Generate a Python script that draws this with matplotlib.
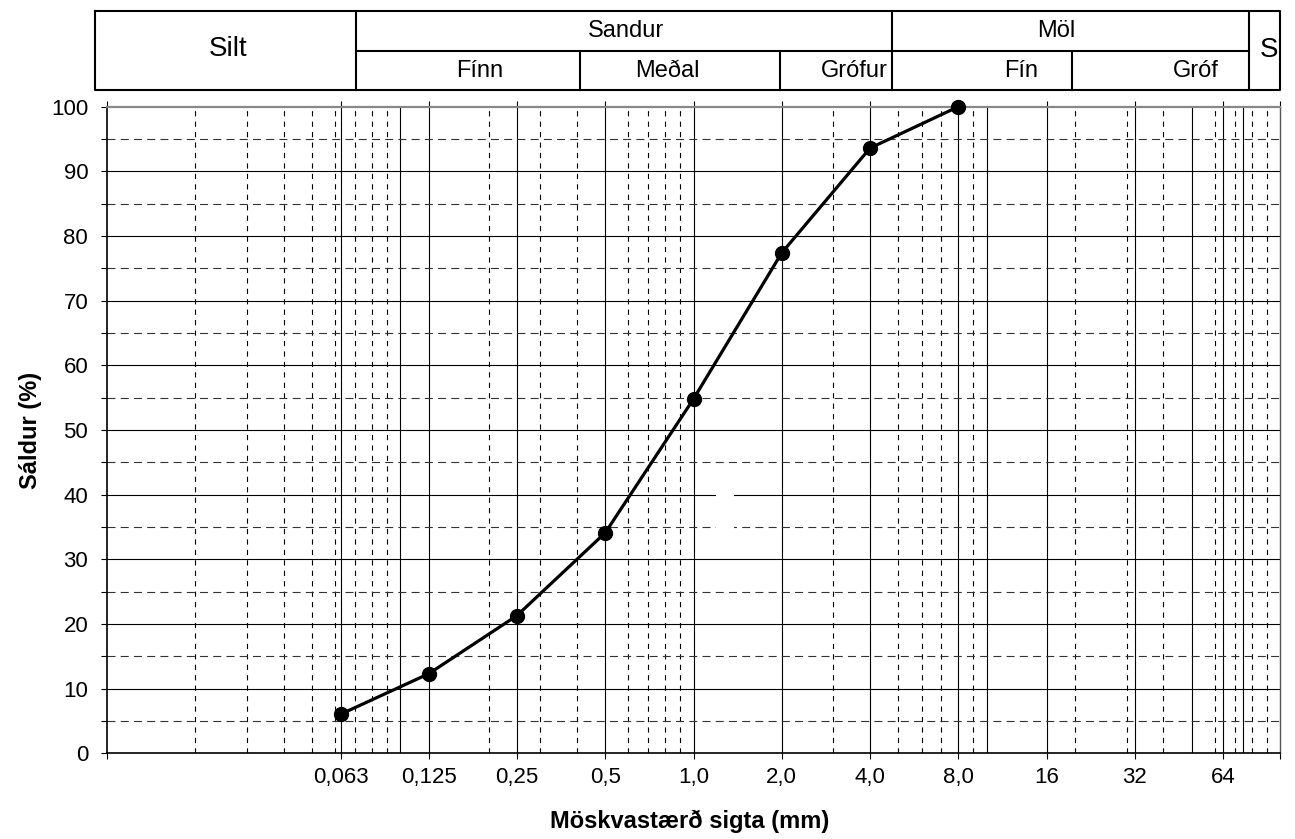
import matplotlib
matplotlib.use("Agg")
import matplotlib.pyplot as plt
from matplotlib.patches import Rectangle

plt.rcParams['font.family'] = ['Liberation Sans', 'DejaVu Sans']

# ---- data ----
sieve_mm = [0.063, 0.125, 0.25, 0.5, 1.0, 2.0, 4.0, 8.0]
passing_pct = [6.1, 12.3, 21.3, 34.1, 54.8, 77.4, 93.6, 100.0]

tick_values = [0.063, 0.125, 0.25, 0.5, 1.0, 2.0, 4.0, 8.0, 16, 32, 64]
tick_labels = ["0,063", "0,125", "0,25", "0,5", "1,0", "2,0", "4,0", "8,0", "16", "32", "64"]
extra_solid = [0.1, 10, 50, 75]
minor_dashed = [0.02, 0.03, 0.04, 0.05, 0.06, 0.07, 0.08, 0.09,
                0.2, 0.3, 0.4, 0.6, 0.7, 0.8, 0.9,
                3, 5, 6, 7, 9,
                20, 30, 40, 60, 70, 80, 90]
y_solid = [10, 20, 30, 40, 50, 60, 70, 80, 90]
y_dashed = [5, 15, 25, 35, 45, 55, 65, 75, 85, 95]
y_ticks = list(range(0, 101, 10))

header_labels_top = ["Silt", "Sandur", "Möl", "S"]
header_labels_bot = ["Fínn", "Meðal", "Grófur", "Fín", "Gróf"]

W, H = 1295, 839
fig = plt.figure(figsize=(W / 100, H / 100), dpi=100)
ax = fig.add_axes([107 / W, 1 - 753.3 / H, 1173 / W, 646.6 / H])
ax.set_xscale('log')
ax.set_xlim(0.01, 100)
ax.set_ylim(0, 100)

# grid
for v in tick_values + extra_solid:
    ax.axvline(v, color='black', lw=0.8, zorder=1)
for v in minor_dashed:
    ax.axvline(v, color='black', lw=0.8, ls=(0, (4.7, 4.7)), zorder=1)
for v in y_solid:
    ax.axhline(v, color='black', lw=0.8, zorder=1)
for v in y_dashed:
    ax.axhline(v, color='#333333', lw=0.8, ls=(0, (7.2, 4.7)), zorder=1)

# small white gap artefact seen in the reference grid
ax.add_patch(Rectangle((1.19, 34.3), 0.18, 6.3, facecolor='white', edgecolor='none', zorder=2))

ax.plot(sieve_mm, passing_pct, color='black', lw=2.3, marker='o', ms=10, zorder=5, clip_on=False)

ax.set_xticks([0.01] + tick_values + [100])
ax.set_xticklabels([""] + tick_labels + [""])
ax.xaxis.set_minor_locator(matplotlib.ticker.NullLocator())
ax.set_yticks(y_ticks)
ax.set_yticks(y_dashed, minor=True)
ax.tick_params(axis='x', which='major', direction='out', length=4, width=0.8,
               labelsize=16, pad=6, top=True)
ax.tick_params(axis='y', which='both', direction='out', length=4, width=0.8,
               labelsize=16, pad=9.5)

for s in ['left', 'bottom']:
    ax.spines[s].set_linewidth(1.2)
    ax.spines[s].set_color('black')
ax.spines['top'].set_color('#888888')
ax.spines['top'].set_linewidth(1.6)
ax.spines['right'].set_color('#555555')
ax.spines['right'].set_linewidth(1.0)

fig.text(30 / W, 1 - 430 / H, "Sáldur (%)", rotation=90, fontsize=17, fontweight='bold',
         ha='center', va='center')
fig.text(690 / W, 1 - 821 / H, "Möskvastærð sigta (mm)", fontsize=17, fontweight='bold',
         ha='center', va='center')

# header table
hax = fig.add_axes([0, 0, 1, 1])
hax.set_xlim(0, W)
hax.set_ylim(H, 0)
hax.axis('off')
hax.patch.set_alpha(0)
top_y, mid_y, bot_y = 11, 51, 90
lw = 1.5
hax.plot([95, 1280, 1280, 95, 95], [top_y, top_y, bot_y, bot_y, top_y], color='black', lw=lw)
hax.plot([356, 1249], [mid_y, mid_y], color='black', lw=lw)
for x in [356, 892, 1249]:
    hax.plot([x, x], [top_y, bot_y], color='black', lw=lw)
for x in [580, 780, 1072]:
    hax.plot([x, x], [mid_y, bot_y], color='black', lw=lw)

hax.text(228, 49, header_labels_top[0], fontsize=20, ha='center', va='center')
hax.text(626, 31, header_labels_top[1], fontsize=17, ha='center', va='center')
hax.text(1056, 31, header_labels_top[2], fontsize=17, ha='center', va='center')
hax.text(1269, 50, header_labels_top[3], fontsize=20, ha='center', va='center')
hax.text(480, 71, header_labels_bot[0], fontsize=17, ha='center', va='center')
hax.text(667, 71, header_labels_bot[1], fontsize=17, ha='center', va='center')
hax.text(888, 71, header_labels_bot[2], fontsize=17, ha='right', va='center')
hax.text(1021, 71, header_labels_bot[3], fontsize=17, ha='center', va='center')
hax.text(1196, 71, header_labels_bot[4], fontsize=17, ha='center', va='center')

fig.savefig("out.png", dpi=100)
